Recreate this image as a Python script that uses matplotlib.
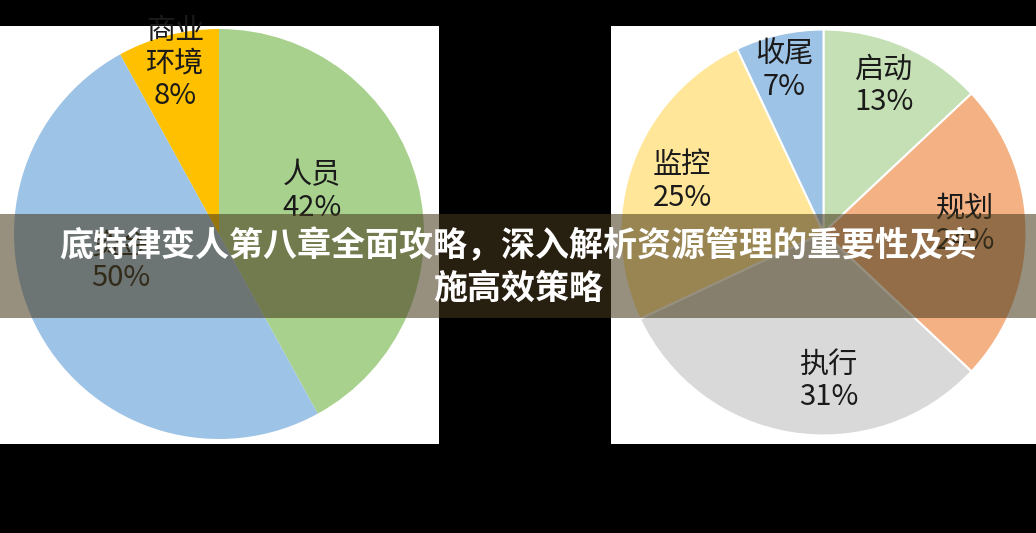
import matplotlib
matplotlib.use('Agg')
import matplotlib.pyplot as plt
from matplotlib.patches import Rectangle
import numpy as np

plt.rcParams['font.family'] = ['Noto Sans CJK SC', 'DejaVu Sans']

# left pie
left_names = ['人员', '资金', '商业\n环境']
left_values = [42, 50, 8]
left_colors = ['#A9D18E', '#9DC3E6', '#FFC000']

# right pie
right_names = ['启动', '规划', '执行', '监控', '收尾']
right_values = [13, 24, 31, 25, 7]
right_colors = ['#C5E0B4', '#F4B183', '#D9D9D9', '#FFE699', '#9DC3E6']

title = '底特律变人第八章全面攻略，深入解析资源管理的重要性及实\n施高效策略'

W, H = 1036, 533
fig = plt.figure(figsize=(W / 100, H / 100), dpi=100, facecolor='black')
ax = fig.add_axes([0, 0, 1, 1])


def draw_pie(values, names, colors, cx, cy, r, dists, shifts, panel, edge):
    labels = [n + '\n' + str(v) + '%' for n, v in zip(names, values)]
    wedges, texts = ax.pie(values, colors=colors, startangle=90, counterclock=False,
                           center=(cx, H - cy), radius=r, labels=labels,
                           wedgeprops=dict(edgecolor='white' if edge else 'none',
                                           linewidth=1.5 if edge else 0),
                           textprops=dict(fontsize=21, color='#1a1a1a', linespacing=1.1))
    # place labels like excel's "best fit": inside the wedge at a chosen depth
    for w, t, d, s in zip(wedges, texts, dists, shifts):
        a = np.deg2rad((w.theta1 + w.theta2) / 2 + s)
        t.set_position((cx + d * r * np.cos(a), H - cy + d * r * np.sin(a)))
        t.set_ha('center')
        t.set_va('center')
        t.set_clip_path(panel)


left_panel = Rectangle((0, H - 444), 439, 418, facecolor='white', zorder=0)
right_panel = Rectangle((611, H - 444), 425, 418, facecolor='white', zorder=0)
ax.add_patch(left_panel)
ax.add_patch(right_panel)

draw_pie(left_values, left_names, left_colors, 219, 234, 205,
         [0.50, 0.50, 0.86], [10, -13, 0], left_panel, False)
draw_pie(right_values, right_names, right_colors, 823.5, 232.5, 203,
         [0.78, 0.70, 0.73, 0.74, 0.82], [1, 3, 11, 0, 1], right_panel, True)

# dark band with title
ax.add_patch(Rectangle((0, H - 318), W, 104, facecolor='#47391b', alpha=0.56,
                       edgecolor='none', zorder=5))
ax.text(518, H - 267, title, ha='center', va='center', color='white', fontsize=24.5,
        fontweight='heavy', linespacing=1.3, zorder=6)

ax.set_xlim(0, W)
ax.set_ylim(0, H)
ax.set_aspect('auto')
ax.axis('off')

fig.savefig('out.png', dpi=100, facecolor='black')
